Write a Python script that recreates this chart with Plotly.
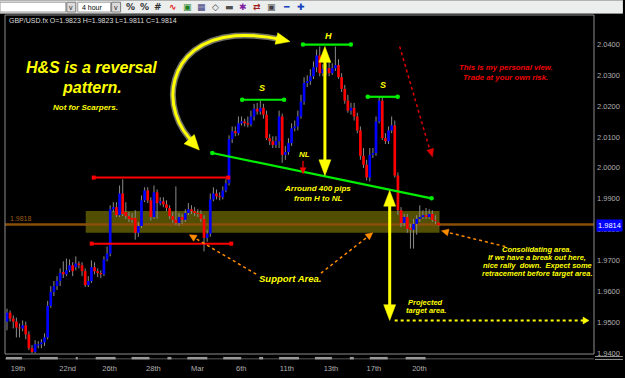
import math
import plotly.graph_objects as go

# ---------------- data ----------------
OPEN = [
    1.9503, 1.9532, 1.9513, 1.9503, 1.9484, 1.9481, 1.9491, 1.9462, 1.9417, 1.9405,
    1.9426, 1.9430, 1.9436, 1.9452, 1.9554, 1.9599, 1.9618, 1.9634, 1.9663, 1.9656,
    1.9669, 1.9685, 1.9679, 1.9691, 1.9685, 1.9666, 1.9621, 1.9634, 1.9679, 1.9666,
    1.9660, 1.9656, 1.9704, 1.9723,
    1.9866, 1.9873, 1.9847, 1.9917, 1.9857, 1.9844, 1.9838, 1.9838, 1.9790, 1.9812,
    1.9895, 1.9927, 1.9895, 1.9841, 1.9921, 1.9886, 1.9892, 1.9882, 1.9870, 1.9844,
    1.9832, 1.9822, 1.9841, 1.9832, 1.9854, 1.9866, 1.9860, 1.9854, 1.9851, 1.9835,
    1.9774, 1.9787, 1.9898, 1.9917, 1.9908, 1.9905, 1.9927, 1.9950,
    2.0093, 2.0118, 2.0112, 2.0144, 2.0150, 2.0144, 2.0140, 2.0166, 2.0191, 2.0182,
    2.0194, 2.0172, 2.0096, 2.0086, 2.0074, 2.0086, 2.0166, 2.0042, 2.0051, 2.0080,
    2.0128, 2.0134, 2.0166, 2.0214, 2.0274, 2.0280, 2.0296, 2.0325, 2.0363, 2.0306,
    2.0313, 2.0322, 2.0306, 2.0322, 2.0332, 2.0293, 2.0255, 2.0217, 2.0185, 2.0194,
    2.0166, 2.0121, 2.0039, 2.0010, 1.9969, 2.0042, 2.0048, 2.0150, 2.0217, 2.0096,
    2.0086, 2.0121, 2.0137, 1.9975, 1.9863, 1.9822, 1.9841, 1.9806, 1.9800, 1.9819,
    1.9835, 1.9841, 1.9847, 1.9841, 1.9851, 1.9832, 1.9823,
]
HIGH = [
    1.9545, 1.9539, 1.9523, 1.9516, 1.9497, 1.9507, 1.9503, 1.9472, 1.9427, 1.9443,
    1.9440, 1.9446, 1.9465, 1.9570, 1.9618, 1.9634, 1.9650, 1.9675, 1.9698, 1.9707,
    1.9704, 1.9695, 1.9714, 1.9698, 1.9695, 1.9675, 1.9650, 1.9701, 1.9695, 1.9675,
    1.9669, 1.9714, 1.9746, 1.9879,
    1.9889, 1.9889, 1.9943, 1.9963, 1.9889, 1.9857, 1.9854, 1.9863, 1.9825, 1.9911,
    1.9937, 1.9937, 1.9905, 1.9943, 1.9930, 1.9905, 1.9905, 1.9895, 1.9879, 1.9857,
    1.9940, 1.9854, 1.9851, 1.9866, 1.9886, 1.9879, 1.9873, 1.9866, 1.9863, 1.9847,
    1.9800, 1.9917, 1.9937, 1.9930, 1.9921, 1.9940, 1.9963, 2.0105,
    2.0134, 2.0134, 2.0166, 2.0166, 2.0159, 2.0166, 2.0185, 2.0207, 2.0210, 2.0217,
    2.0207, 2.0185, 2.0109, 2.0102, 2.0102, 2.0185, 2.0175, 2.0071, 2.0096, 2.0144,
    2.0153, 2.0185, 2.0236, 2.0293, 2.0299, 2.0319, 2.0344, 2.0382, 2.0392, 2.0335,
    2.0338, 2.0344, 2.0338, 2.0392, 2.0351, 2.0306, 2.0268, 2.0236, 2.0210, 2.0210,
    2.0178, 2.0134, 2.0064, 2.0026, 2.0064, 2.0064, 2.0166, 2.0229, 2.0229, 2.0112,
    2.0134, 2.0166, 2.0153, 1.9985, 1.9873, 1.9851, 1.9851, 1.9819, 1.9835, 1.9847,
    1.9879, 1.9863, 1.9870, 1.9866, 1.9863, 1.9847, 1.9823,
]
LOW = [
    1.9475, 1.9503, 1.9481, 1.9452, 1.9452, 1.9472, 1.9446, 1.9411, 1.9401, 1.9401,
    1.9417, 1.9417, 1.9424, 1.9446, 1.9548, 1.9586, 1.9605, 1.9618, 1.9644, 1.9650,
    1.9663, 1.9650, 1.9669, 1.9675, 1.9650, 1.9615, 1.9615, 1.9628, 1.9656, 1.9647,
    1.9644, 1.9650, 1.9698, 1.9714,
    1.9857, 1.9841, 1.9841, 1.9844, 1.9835, 1.9825, 1.9822, 1.9768, 1.9777, 1.9806,
    1.9889, 1.9886, 1.9829, 1.9835, 1.9835, 1.9879, 1.9873, 1.9860, 1.9835, 1.9822,
    1.9816, 1.9812, 1.9819, 1.9825, 1.9847, 1.9851, 1.9844, 1.9841, 1.9825, 1.9730,
    1.9761, 1.9777, 1.9892, 1.9898, 1.9895, 1.9898, 1.9921, 1.9943,
    2.0080, 2.0102, 2.0105, 2.0137, 2.0134, 2.0131, 2.0134, 2.0153, 2.0172, 2.0172,
    2.0159, 2.0090, 2.0074, 2.0064, 2.0064, 2.0064, 2.0016, 2.0026, 2.0042, 2.0071,
    2.0118, 2.0121, 2.0159, 2.0204, 2.0261, 2.0268, 2.0287, 2.0309, 2.0296, 2.0296,
    2.0300, 2.0296, 2.0300, 2.0313, 2.0287, 2.0245, 2.0207, 2.0178, 2.0172, 2.0153,
    2.0112, 2.0026, 2.0000, 1.9959, 1.9956, 2.0032, 2.0039, 2.0144, 2.0090, 2.0077,
    2.0077, 2.0112, 1.9969, 1.9848, 1.9809, 1.9812, 1.9790, 1.9739, 1.9739, 1.9784,
    1.9825, 1.9835, 1.9835, 1.9835, 1.9825, 1.9819, 1.9811,
]
CLOSE = [
    1.9532, 1.9513, 1.9503, 1.9484, 1.9481, 1.9491, 1.9462, 1.9417, 1.9405, 1.9430,
    1.9430, 1.9436, 1.9452, 1.9554, 1.9599, 1.9618, 1.9634, 1.9660, 1.9656, 1.9669,
    1.9685, 1.9666, 1.9691, 1.9685, 1.9666, 1.9621, 1.9634, 1.9679, 1.9666, 1.9660,
    1.9656, 1.9704, 1.9723, 1.9866,
    1.9873, 1.9847, 1.9917, 1.9851, 1.9844, 1.9835, 1.9832, 1.9790, 1.9812, 1.9895,
    1.9927, 1.9895, 1.9841, 1.9921, 1.9886, 1.9892, 1.9882, 1.9870, 1.9844, 1.9832,
    1.9822, 1.9841, 1.9832, 1.9854, 1.9866, 1.9860, 1.9854, 1.9851, 1.9835, 1.9774,
    1.9787, 1.9898, 1.9917, 1.9908, 1.9905, 1.9927, 1.9950, 2.0093,
    2.0118, 2.0112, 2.0144, 2.0150, 2.0144, 2.0140, 2.0166, 2.0191, 2.0182, 2.0194,
    2.0172, 2.0096, 2.0086, 2.0074, 2.0086, 2.0166, 2.0042, 2.0051, 2.0080, 2.0128,
    2.0134, 2.0166, 2.0214, 2.0274, 2.0280, 2.0296, 2.0325, 2.0363, 2.0306, 2.0319,
    2.0322, 2.0306, 2.0322, 2.0332, 2.0293, 2.0255, 2.0217, 2.0185, 2.0194, 2.0166,
    2.0121, 2.0039, 2.0010, 1.9969, 2.0042, 2.0048, 2.0150, 2.0217, 2.0096, 2.0086,
    2.0121, 2.0137, 1.9975, 1.9863, 1.9822, 1.9841, 1.9803, 1.9800, 1.9819, 1.9835,
    1.9841, 1.9847, 1.9841, 1.9851, 1.9832, 1.9829, 1.9814,
]
DATE_LABELS = ["19th", "22nd", "26th", "28th", "Mar", "6th", "11th", "13th", "17th", "20th"]
DATE_LABEL_BARS = [3.5, 19.4, 32.8, 46.8, 60.9, 74.9, 89.5, 103.6, 117.3, 131.9]
PRICE_TICKS = [1.94, 1.95, 1.96, 1.97, 1.98, 1.99, 2.00, 2.01, 2.02, 2.03, 2.04]
LAST_PRICE = 1.9814
LINE_PRICE = 1.9818
HEADER = "GBP/USD.fx O=1.9823 H=1.9823 L=1.9811 C=1.9814"

# ---------------- geometry helpers (annotation placement) ----------------
W, H = 625, 378
L, R, T, B = 5, 596, 15, 359
BAR0_PX = 7.0
BAR_PX = 3.138
P_REF, P_REF_PX, PX_PER_UNIT = 2.04, 44.5, 3140.0


def xd(px):
    return (px - BAR0_PX) / BAR_PX


def yd(py):
    return P_REF - (py - P_REF_PX) / PX_PER_UNIT


def xp(px):
    return (px - L) / (R - L)


def yp(py):
    return (B - py) / (B - T)


X_RANGE = [xd(L), xd(R)]
Y_RANGE = [yd(B), yd(T)]

YELLOW = "#ffff00"
FONT = "Liberation Sans"

n = len(CLOSE)
idx = list(range(n))
MIN_BODY = 0.00014  # half of the smallest visible body (display only)

# wicks
wx, wy = [], []
for i in idx:
    wx += [i, i, None]
    wy += [LOW[i], HIGH[i], None]

fig = go.Figure()
fig.add_trace(go.Scatter(x=wx, y=wy, mode="lines", line=dict(color="#8a8a8a", width=1),
                         hoverinfo="skip", showlegend=False))

# bodies as thick vertical strokes (drawn after the wicks)
for up, col in [(True, "#0000ff"), (False, "#ff0000")]:
    bx, by = [], []
    for i in idx:
        o, c = OPEN[i], CLOSE[i]
        if (c > o) != up:
            continue
        lo, hi = min(o, c), max(o, c)
        if hi - lo < 2 * MIN_BODY:
            mid = (hi + lo) / 2
            lo, hi = mid - MIN_BODY, mid + MIN_BODY
        bx += [i, i, None]
        by += [lo, hi, None]
    fig.add_trace(go.Scatter(x=bx, y=by, mode="lines", line=dict(color=col, width=2.7),
                             hoverinfo="skip", showlegend=False))

shapes = []
annotations = []


def dline(x0, y0, x1, y1, color, width, dash="solid", layer="above"):
    shapes.append(dict(type="line", xref="x", yref="y", x0=xd(x0), y0=yd(y0), x1=xd(x1), y1=yd(y1),
                       line=dict(color=color, width=width, dash=dash), layer=layer))


def head(tip, frm, length, half, color):
    tx, ty = tip
    fx, fy = frm
    dx, dy = tx - fx, ty - fy
    nn = math.hypot(dx, dy)
    ux, uy = dx / nn, dy / nn
    bx, by = tx - ux * length, ty - uy * length
    qx, qy = -uy, ux
    pts = [(tx, ty), (bx + qx * half, by + qy * half), (bx - qx * half, by - qy * half)]
    path = "M " + " L ".join(f"{xd(a):.4f},{yd(b):.6f}" for a, b in pts) + " Z"
    shapes.append(dict(type="path", xref="x", yref="y", path=path, fillcolor=color,
                       line=dict(color=color, width=0.5)))


def dot(px, py, color, r=2.5, square=False):
    shapes.append(dict(type="rect" if square else "circle", xref="x", yref="y",
                       xsizemode="pixel", ysizemode="pixel",
                       xanchor=xd(px), yanchor=yd(py), x0=-r, x1=r, y0=-r, y1=r,
                       fillcolor=color, line=dict(width=0)))


def text(px, py, s, size, color=YELLOW, bold=True, italic=True, anchor="center"):
    t = s
    if italic:
        t = f"<i>{t}</i>"
    if bold:
        t = f"<b>{t}</b>"
    annotations.append(dict(x=xd(px), y=yd(py), xref="x", yref="y", text=t, showarrow=False,
                            xanchor=anchor, yanchor="middle",
                            font=dict(family=FONT, size=size, color=color)))


def ptext(px, py, s, size, color, anchor="left", bg=None, family=FONT):
    d = dict(x=xp(px), y=yp(py), xref="paper", yref="paper", text=s, showarrow=False,
             xanchor=anchor, yanchor="middle", font=dict(family=family, size=size, color=color))
    if bg:
        d.update(bgcolor=bg, borderpad=1)
    annotations.append(d)


def prect(x0, y0, x1, y1, fill, line=None, lw=0):
    shapes.append(dict(type="rect", xref="paper", yref="paper", x0=xp(x0), x1=xp(x1),
                       y0=yp(y1), y1=yp(y0), fillcolor=fill,
                       line=dict(color=line or fill, width=lw)))


# ---- support band and level lines (under candles)
shapes.append(dict(type="rect", xref="x", yref="y", x0=xd(86), x1=xd(441), y0=yd(236), y1=yd(214),
                   fillcolor="#524f04", line=dict(width=0), layer="below"))
shapes.append(dict(type="line", xref="x", yref="y", x0=X_RANGE[0], x1=X_RANGE[1],
                   y0=LINE_PRICE - 0.00013, y1=LINE_PRICE - 0.00013,
                   line=dict(color="#8a4f08", width=2.5), layer="below"))

# ---- red range lines
for (xa, xb, yy) in [(94, 229, 180), (92, 232, 247)]:
    dline(xa, yy, xb, yy, "#ff0000", 2)
    dot(xa, yy, "#ff0000", 2, square=True)
    dot(xb, yy, "#ff0000", 2, square=True)

# ---- green neckline & shoulder/head levels
GREEN = "#00ee00"
for (x0, y0, x1, y1) in [(213, 155, 433, 201), (243, 101, 285, 101), (304, 45, 352, 45), (369, 98, 399, 98)]:
    dline(x0, y0, x1, y1, GREEN, 2.2)
    dot(x0, y0, GREEN, 2.3)
    dot(x1, y1, GREEN, 2.3)

# ---- yellow double arrows
for (xx, ytop, ybot) in [(326, 47, 178), (391, 193, 325)]:
    dline(xx, ytop + 10, xx, ybot - 10, YELLOW, 3)
    head((xx, ytop), (xx, ytop + 20), 16, 6, YELLOW)
    head((xx, ybot), (xx, ybot - 20), 16, 6, YELLOW)

# ---- yellow dotted projection
dline(396, 325, 585, 325, YELLOW, 2, "dot")
head((591, 325), (580, 325), 6, 3.5, YELLOW)

# ---- red dotted arrow
dline(401, 47, 431, 151, "#dd0000", 1.5, "dot")
head((434, 159), (431, 149), 8, 3.5, "#dd0000")

# ---- orange dotted arrows
ORANGE = "#ff8c00"
for (a, b) in [((257, 278), (190, 238)), ((322, 277), (374, 236)), ((507, 250), (443, 234))]:
    ux, uy = b[0] - a[0], b[1] - a[1]
    nn = math.hypot(ux, uy)
    stop = (b[0] - ux / nn * 6, b[1] - uy / nn * 6)
    dline(a[0], a[1], stop[0], stop[1], ORANGE, 1.5, "dot")
    head(b, a, 7, 3.5, ORANGE)

# ---- small red arrow under NL
dline(304, 163, 304, 170, "#ff0000", 1.2)
head((304, 176), (304, 166), 6, 3, "#ff0000")

# ---- curved yellow arrow
pts = [(196, 146), (158, 112), (166, 42), (236, 36), (255, 35), (270, 37), (283, 40)]
pp = [(xd(a), yd(b)) for a, b in pts]
cpath = (f"M {pp[0][0]},{pp[0][1]} C {pp[1][0]},{pp[1][1]} {pp[2][0]},{pp[2][1]} {pp[3][0]},{pp[3][1]} "
         f"C {pp[4][0]},{pp[4][1]} {pp[5][0]},{pp[5][1]} {pp[6][0]},{pp[6][1]}")
shapes.append(dict(type="path", xref="x", yref="y", path=cpath, line=dict(color="rgba(255,255,220,0.45)", width=6)))
shapes.append(dict(type="path", xref="x", yref="y", path=cpath, line=dict(color=YELLOW, width=3)))
head((291, 42), (278, 39), 14, 6, YELLOW)
head((200, 152), (187, 138), 15, 7, YELLOW)

# ---- texts on chart
text(92, 68, "H&S is a reversal", 16)
text(92, 89, "pattern.", 16)
text(86, 109, "Not for Scarpers.", 8)
text(508, 68.5, "This is my personal view.", 7.8, color="#ee0000")
text(507, 78.5, "Trade at your own risk.", 7.8, color="#ee0000")
text(263, 89, "S", 9)
text(330, 36, "H", 9)
text(384, 86, "S", 9)
text(306, 157, "NL", 8)
text(319, 191, "Arround 400 pips", 8)
text(320, 201, "from H to NL", 8)
text(291, 282, "Support Area.", 9.5)
text(427, 307, "Projected", 7.5)
text(427, 315, "target area.", 7.5)
for yy, s in [(253, "Consolidating area."), (261, "If we have a break out here,"),
              (269, "nice rally  down.  Expect some"), (277, "retracement before target area.")]:
    text(539, yy, s, 7.5)

ptext(8, 222, "1.9818", 7, "#9a5a18")

# ---- frame
shapes.append(dict(type="rect", xref="paper", yref="paper", x0=0, x1=1, y0=0, y1=1,
                   line=dict(color="#8c8c8c", width=1), fillcolor="rgba(0,0,0,0)"))

# ---- bottom time strip
prect(5, 363, 596, 364.5, "#3a3a3a")
for (a, b) in [(6, 22), (40, 58), (76, 78), (96, 116), (132, 150), (168, 172), (188, 208),
               (224, 242), (260, 264), (280, 300), (316, 333), (351, 355), (371, 389), (407, 427)]:
    prect(a, 362, b, 364.5, "#9a9a9a")
prect(597, 361, 625, 362, "#9a9a9a")
prect(597, 364, 625, 365, "#9a9a9a")

# ---- last price box
annotations.append(dict(x=xp(598), y=LAST_PRICE, xref="paper", yref="y", text="1.9814", showarrow=False,
                        xanchor="left", yanchor="middle", bgcolor="#0000ff", borderpad=1,
                        font=dict(family=FONT, size=7.5, color="#ffffff")))

# ---- toolbar
prect(0, 0, 625, 13, "#eceeee")
prect(0, 13, 625, 14, "#8c8c8c")
prect(0, 2, 66, 12, "#ffffff", "#9a9a9a", 1)
prect(67, 2, 76, 12, "#dcdcdc", "#7a7a7a", 1)
prect(78, 2, 111, 12, "#ffffff", "#9a9a9a", 1)
prect(112, 2, 121, 12, "#dcdcdc", "#7a7a7a", 1)
ptext(71.5, 7, "v", 7, "#202020", "center")
ptext(116.5, 7, "v", 7, "#202020", "center")
ptext(80, 7, "4 hour", 7, "#000000")
icons = [(131, "%", "#303030"), (145, "%", "#303030"), (159, "#", "#303030"), (174, "∿", "#e02020"),
         (188, "▣", "#208020"), (202, "▦", "#404080"), (216, "◇", "#404040"), (230, "▬", "#505050"),
         (244, "✱", "#8020a0"), (258, "⇄", "#a02020"), (272, "▣", "#404040"), (287, "━", "#1040c0"),
         (302, "✚", "#1040c0")]
for (xx, g, c) in icons:
    ptext(xx, 7, f"<b>{g}</b>", 9, c, "center", family="DejaVu Sans")

# ---- header
ptext(7, 20.5, HEADER, 7, "#dcdcdc")

fig.update_layout(
    width=W, height=H,
    margin=dict(l=L, r=W - R, t=T, b=H - B, pad=0),
    paper_bgcolor="#000000", plot_bgcolor="#000000",
    showlegend=False, hovermode=False,
    xaxis=dict(range=X_RANGE, showgrid=False, zeroline=False, showline=False,
               tickmode="array", tickvals=DATE_LABEL_BARS, ticktext=DATE_LABELS,
               ticks="outside", ticklen=7, tickcolor="rgba(0,0,0,0)",
               tickfont=dict(family=FONT, size=7.5, color="#b0b0b0"), fixedrange=True),
    yaxis=dict(range=Y_RANGE, side="right", showgrid=False, zeroline=False, showline=False,
               tickmode="array", tickvals=PRICE_TICKS, ticktext=[f"{v:.4f}" for v in PRICE_TICKS],
               ticks="", ticklabelstandoff=2,
               tickfont=dict(family=FONT, size=7.5, color="#b0b0b0"), fixedrange=True),
    shapes=shapes, annotations=annotations,
)

fig.write_html("out.html")
